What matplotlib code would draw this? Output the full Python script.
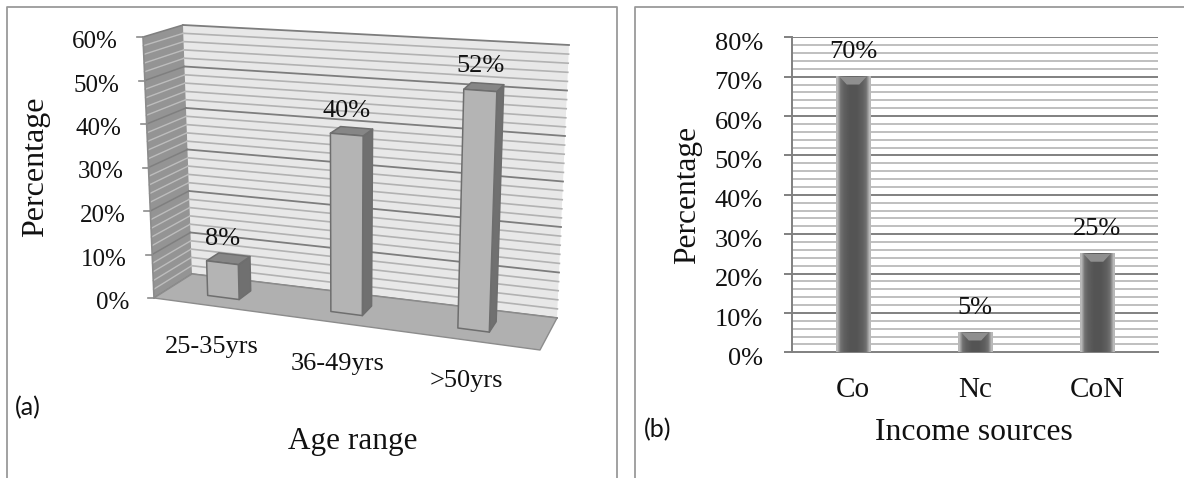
"""Two panel figure: age range (mock 3D columns) and income sources (flat columns)."""

import matplotlib

matplotlib.use("Agg")
import matplotlib.pyplot as plt
import numpy as np
from matplotlib.patches import Polygon
from matplotlib.transforms import ScaledTranslation

plt.rcParams["font.family"] = ["Liberation Serif", "DejaVu Serif"]

# --- data ---------------------------------------------------------------
age_labels = ["25-35yrs", "36-49yrs", ">50yrs"]
age_values = [8, 40, 52]
age_ticks = [0, 10, 20, 30, 40, 50, 60]

income_labels = ["Co", "Nc", "CoN"]
income_values = [70, 5, 25]
income_ticks = [0, 10, 20, 30, 40, 50, 60, 70, 80]

W, H = 1184, 478

# corners of the 3D box in pixels, indexed [u][d][top]
BOX = np.array(
    [
        [[(154, 298), (143, 37)], [(192, 274), (183, 25)]],
        [[(540, 350), (552, 65)], [(557, 318), (569, 45)]],
    ],
    dtype=float,
)
AGE_MAX = 60
BAR_U = [0.15, 0.475, 0.81]
BAR_W = 0.083
BAR_D = (0.33, 0.67)


def project(u, d, v):
    """Trilinear map from (category pos, depth, value) to pixel coordinates."""
    t = v / AGE_MAX
    out = np.zeros(2)
    for i, wu in enumerate((1 - u, u)):
        for j, wd in enumerate((1 - d, d)):
            for k, wt in enumerate((1 - t, t)):
                out += wu * wd * wt * BOX[i, j, k]
    return out


fig = plt.figure(figsize=(W / 100, H / 100), dpi=100, facecolor="white")

# full figure axes working in pixels, for the 3D panel and the free text
scene = fig.add_axes([0, 0, 1, 1], zorder=3)
scene.set_xlim(0, W)
scene.set_ylim(H, 0)
scene.axis("off")
scene.patch.set_alpha(0)

# panel frames
FRAME = "#9a9a9a"
scene.plot([7, 7, 617, 617], [H, 7, 7, H], color=FRAME, lw=1.3)
scene.plot([635, 635, W], [H, 7, 7], color=FRAME, lw=1.3)


def face(pts, fc, ec="none", lw=0.0, z=1):
    scene.add_patch(Polygon(pts, closed=True, fc=fc, ec=ec, lw=lw, zorder=z, joinstyle="round"))


# walls and floor
face([project(0, 1, 0), project(0, 1, 60), project(1, 1, 60), project(1, 1, 0)], "#e8e8e8")
face([project(0, 0, 0), project(0, 0, 60), project(0, 1, 60), project(0, 1, 0)], "#949494")
face([project(0, 0, 0), project(1, 0, 0), project(1, 1, 0), project(0, 1, 0)], "#b0b0b0", "#8c8c8c", 1.0, 2)

for v in np.arange(0, 60.01, 2):
    major = v % 10 == 0
    back = np.array([project(0, 1, v), project(1, 1, v)])
    side = np.array([project(0, 0, v), project(0, 1, v)])
    if major:
        scene.plot(back[:, 0], back[:, 1], color="#7d7d7d", lw=1.3, zorder=1.5)
        scene.plot(side[:, 0], side[:, 1], color="#7f7f7f", lw=1.1, zorder=1.5)
    else:
        scene.plot(back[:, 0], back[:, 1], color="#b2b2b2", lw=1.2, zorder=1.5)
        scene.plot(side[:, 0], side[:, 1], color="#bdbdbd", lw=1.0, zorder=1.5)

# left axis line, ticks and labels
edge = np.array([project(0, 0, 0), project(0, 0, 60)])
scene.plot(edge[:, 0], edge[:, 1], color="#8c8c8c", lw=1.2, zorder=2)
for v in age_ticks:
    x, y = project(0, 0, v)
    scene.plot([x - 6, x], [y, y], color="#8c8c8c", lw=1.2, zorder=2)
    scene.text(x - 25, y + 5, f"{v}%", ha="right", va="center", fontsize=18, color="#111111")

# columns
for u, val, lab in zip(BAR_U, age_values, age_labels):
    u0, u1 = u - BAR_W / 2, u + BAR_W / 2
    d0, d1 = BAR_D
    edge_kw = dict(ec="#6e6e6e", lw=1.1, z=4)
    face([project(u1, d0, 0), project(u1, d0, val), project(u1, d1, val), project(u1, d1, 0)], "#707070", **edge_kw)
    face([project(u0, d0, val), project(u0, d1, val), project(u1, d1, val), project(u1, d0, val)], "#868686", **edge_kw)
    face([project(u0, d0, 0), project(u0, d0, val), project(u1, d0, val), project(u1, d0, 0)], "#b4b4b4", **edge_kw)
    tx, ty = project(u, d0, val)
    scene.text(tx, ty - 24, f"{val}%", ha="center", va="center", fontsize=19, color="#111111", zorder=5)
    lx, ly = project(u, 0, 0)
    scene.text(lx, ly + 41, lab, ha="center", va="center", fontsize=19, color="#111111")

scene.text(36, 167, "Percentage", rotation=90, ha="center", va="center", fontsize=23, color="#111111")
scene.text(353, 442, "Age range", ha="center", va="center", fontsize=22.5, color="#111111")
scene.text(15, 408, "(a)", ha="left", va="center", fontsize=18, family=["Lato", "DejaVu Sans"], color="#111111")

# --- panel (b), a regular axes ---------------------------------------------
L, R, T, B = 792, 1158, 37.3, 352.3
ax = fig.add_axes([L / W, 1 - B / H, (R - L) / W, (B - T) / H], zorder=2)
ax.set_xlim(0, 3)
ax.set_ylim(0, 80)
ax.patch.set_alpha(0)
for name in ("top", "right"):
    ax.spines[name].set_visible(False)
for name in ("left", "bottom"):
    ax.spines[name].set_color("#808080")
    ax.spines[name].set_linewidth(1.4)

for v in np.arange(2, 80, 2):
    if v % 10:
        ax.axhline(v, color="#b4b4b4", lw=1.2, zorder=1)
for v in income_ticks[1:]:
    ax.axhline(v, color="#808080", lw=1.4, zorder=1.2)

xpos = np.arange(len(income_values)) + 0.5
bar_w = 0.262
pad_w = 0.012  # soft shadow either side of a column
ramp = np.array([[0.72, 0.44, 0.38, 0.35, 0.33, 0.33, 0.33, 0.35, 0.38, 0.44, 0.72]])
for x, val in zip(xpos, income_values):
    x0, x1 = x - bar_w / 2, x + bar_w / 2
    ax.imshow(ramp, cmap="gray", vmin=0, vmax=1, extent=(x0 - pad_w, x1 + pad_w, 0, val), aspect="auto",
              interpolation="bilinear", zorder=3)
    # light bevel along the top of the column
    ax.add_patch(Polygon([(x0 + 0.02, val), (x1 - 0.02, val), (x1 - 0.08, val - 2.0), (x0 + 0.08, val - 2.0)],
                         closed=True, fc="#8f8f8f", ec="none", zorder=4))
    ax.annotate(f"{val}%", (x, val), xytext=(0, 18), textcoords="offset points", ha="center", va="center",
                fontsize=19, color="#111111", zorder=6)
ax.set_xlim(0, 3)
ax.set_ylim(0, 80)

ax.set_yticks(income_ticks)
ax.set_yticklabels([f"{v}%" for v in income_ticks], fontsize=19, color="#111111")
ax.tick_params(axis="y", length=6, width=1.4, color="#808080", pad=15)
shift = ScaledTranslation(0, -3 / 72, fig.dpi_scale_trans)
for lab in ax.get_yticklabels():
    lab.set_transform(lab.get_transform() + shift)
ax.set_xticks(xpos)
ax.set_xticklabels(income_labels, fontsize=21, color="#111111")
ax.tick_params(axis="x", length=0, pad=18)

scene.text(688, 195, "Percentage", rotation=90, ha="center", va="center", fontsize=22.7, color="#111111")
scene.text(974, 433, "Income sources", ha="center", va="center", fontsize=22.8, color="#111111")
scene.text(644, 430, "(b)", ha="left", va="center", fontsize=18, family=["Lato", "DejaVu Sans"], color="#111111")

fig.savefig("out.png", dpi=100, facecolor="white")
